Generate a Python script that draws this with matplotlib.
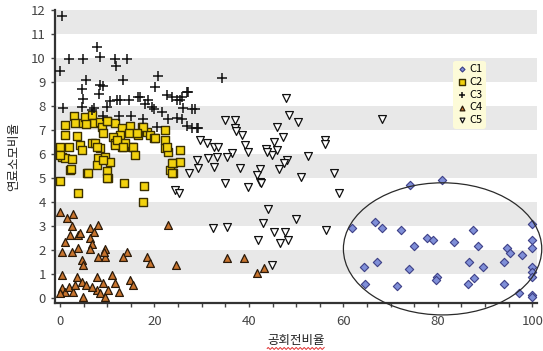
import numpy as np
import matplotlib.pyplot as plt
from matplotlib.patches import Ellipse
from matplotlib.lines import Line2D
from matplotlib.ticker import MultipleLocator

plt.rcParams['font.family'] = ['Noto Sans CJK KR', 'DejaVu Sans']

# C1 (diamonds, circled cluster)
c1_x = [74.2, 80.9, 61.8, 66.6, 68.2, 72.2, 77.7, 79.0, 74.9, 83.5, 87.4, 88.4, 94.6, 95.3,
        97.9, 99.9, 99.9, 100.0, 64.3, 67.1, 73.8, 79.8, 79.7, 86.7, 89.5, 94.1, 99.9, 100.0,
        99.9, 64.6, 71.3, 86.4, 87.7, 94.1, 97.2, 99.9, 100.0]
c1_y = [4.70, 4.90, 2.93, 3.18, 2.93, 2.82, 2.51, 2.42, 2.18, 2.32, 2.83, 2.18, 2.10, 1.86,
        1.78, 3.07, 2.42, 2.10, 1.31, 1.51, 1.20, 0.89, 0.75, 1.51, 1.31, 1.51, 1.31, 1.10,
        0.89, 0.57, 0.51, 0.57, 0.82, 0.57, 0.20, 0.12, 0.05]

# C2 (yellow squares)
c2_x = [3.0, 1.1, 1.1, 3.2, 4.9, 5.3, 6.7, 7.1, 8.5, 8.8, 9.2, 9.9, 11.7, 13.1, 14.8, 14.5,
        12.7, 11.3, 11.7, 13.1, 15.2, 17.3, 18.4, 19.1, 19.8, 16.6, 22.2, 22.2, 22.2, 22.9,
        25.4, 24.0, 25.3, 23.3, 24.0, 0.0, 0.4, 1.1, 2.5, 2.1, 4.2, 4.6, 6.7, 7.4, 8.5, 8.1,
        9.5, 10.6, 7.8, 9.9, 10.2, 5.8, 11.7, 13.8, 0.0, 3.7, 6.0, 10.0, 13.6, 17.8, 17.6,
        23.8, 5.6, 10.0, 17.6, 20.1, 16.2, 3.5, 0.0, 1.8, 2.3, 7.8, 9.2, 12.0, 13.4, 15.5, 15.9,
        22.6, 23.7]
c2_y = [7.60, 7.21, 6.79, 7.28, 7.28, 7.55, 7.63, 7.28, 7.35, 7.14, 6.86, 7.39, 7.28, 7.07,
        7.18, 6.86, 6.79, 6.70, 6.45, 6.31, 6.31, 7.14, 6.93, 6.79, 6.65, 6.79, 7.00, 6.58,
        6.24, 6.10, 6.17, 5.61, 5.65, 5.33, 5.22, 6.30, 5.89, 5.82, 5.78, 5.33, 6.38, 6.17,
        6.45, 6.45, 6.24, 5.82, 5.89, 5.68, 5.54, 5.28, 4.99, 5.19, 6.38, 6.45, 4.89, 4.36,
        5.19, 4.99, 4.78, 4.67, 3.99, 5.19, 7.25, 7.39, 7.14, 6.65, 6.86, 6.73, 5.96, 6.31,
        5.36, 6.31, 5.75, 6.58, 6.31, 6.31, 5.96, 6.31, 5.61]

# C3 (crosses)
c3_x = [0.4, 0.0, 1.8, 4.9, 7.8, 8.5, 11.7, 11.9, 14.1, 5.5, 4.6, 4.9, 8.5, 9.0, 8.3, 13.4,
        20.8, 20.1, 12.7, 14.6, 17.0, 18.7, 22.6, 23.7, 25.4, 26.8, 0.7, 7.1, 4.6, 6.7, 9.9,
        9.2, 12.4, 15.0, 16.6, 19.4, 19.9, 21.5, 20.5, 24.7, 25.8, 27.2, 26.1, 27.9, 28.6,
        22.9, 24.7, 25.8, 26.8, 27.9, 29.0, 29.3, 17.6, 34.3, 12.0, 10.5, 18.0]
c3_y = [11.76, 9.47, 9.96, 9.96, 10.47, 10.03, 9.96, 9.67, 9.96, 9.08, 8.71, 8.29, 8.87, 8.83,
        8.49, 9.08, 9.26, 8.78, 8.25, 8.25, 8.39, 8.25, 8.46, 8.39, 8.25, 8.60, 7.90, 7.90, 7.94,
        7.83, 7.94, 7.58, 7.58, 7.60, 8.39, 7.97, 7.86, 7.76, 7.14, 8.25, 8.39, 8.60, 7.90,
        7.86, 7.86, 7.45, 7.51, 7.45, 7.17, 7.07, 7.10, 7.07, 7.45, 9.15, 8.25, 8.20, 8.10]

# C4 (orange triangles)
c4_x = [0.0, 1.4, 2.8, 2.5, 2.1, 3.9, 4.2, 6.4, 8.1, 7.1, 6.4, 6.7, 1.1, 0.4, 2.5, 3.9, 6.4,
        9.5, 9.5, 8.1, 4.6, 4.9, 14.1, 13.3, 18.4, 19.1, 22.8, 24.6, 0.4, 3.5, 7.8, 11.0, 11.7,
        14.8, 15.5, 0.4, 1.1, 0.0, 1.8, 2.8, 3.2, 4.6, 5.6, 4.9, 7.8, 8.5, 9.2, 9.5, 10.2, 12.4,
        6.7, 35.4, 39.0, 43.1, 41.8, 9.3]
c4_y = [3.58, 3.35, 3.49, 3.01, 2.63, 2.63, 2.69, 2.93, 3.04, 2.74, 2.49, 2.24, 2.35, 1.93,
        1.93, 2.07, 2.04, 2.04, 1.72, 1.72, 1.58, 1.38, 1.93, 1.72, 1.72, 1.45, 3.03, 1.38, 0.96,
        0.89, 0.89, 0.96, 0.61, 0.75, 0.54, 0.40, 0.26, 0.20, 0.47, 0.26, 0.54, 0.65, 0.54, 0.05,
        0.33, 0.20, 0.61, 0.05, 0.33, 0.26, 0.47, 1.65, 1.69, 1.24, 1.03, 1.93]

# C5 (white inverted triangles)
c5_x = [47.9, 48.5, 50.3, 45.9, 47.3, 45.3, 43.6, 44.8, 46.0, 52.6, 48.0, 47.5, 46.3, 42.4,
        41.8, 42.4, 38.1, 35.0, 37.1, 37.1, 37.3, 38.5, 29.7, 31.1, 32.5, 33.5, 39.2, 39.9,
        36.4, 35.3, 33.2, 31.4, 29.0, 29.3, 27.4, 32.5, 35.0, 39.9, 51.0, 56.2, 56.2, 58.1,
        68.1, 42.6, 59.0, 44.1, 50.0, 32.3, 35.4, 42.9, 45.2, 47.7, 46.5, 48.2, 42.0, 56.4,
        44.8, 24.4, 25.1, 43.8]
c5_y = [8.32, 7.64, 7.32, 7.14, 6.72, 6.51, 6.20, 5.96, 6.17, 5.90, 5.75, 5.64, 5.36, 5.36,
        5.13, 4.85, 5.40, 7.43, 7.43, 7.07, 6.97, 6.79, 6.58, 6.45, 6.31, 6.31, 6.38, 6.10,
        6.03, 5.89, 5.89, 5.82, 5.75, 5.40, 5.22, 5.47, 4.80, 4.62, 5.05, 6.60, 6.42, 5.19,
        7.44, 4.78, 4.38, 3.69, 3.28, 2.90, 2.97, 3.11, 2.74, 2.74, 2.30, 2.42, 2.40, 2.82,
        1.39, 4.50, 4.39, 6.10]

fig = plt.figure(figsize=(5.43, 3.51), dpi=100)
ax = fig.add_axes([0.101, 0.137, 0.888, 0.835])

# alternating grey bands
for lo in range(1, 12, 2):
    ax.axhspan(lo, lo + 1, color='#e8e8e8', zorder=0, lw=0)

ax.scatter(c1_x, c1_y, marker='D', s=18, facecolor='#7f8fd8', edgecolor='#3c3f86',
           linewidths=0.8, label='C1', zorder=3)
ax.scatter(c2_x, c2_y, marker='s', s=38, facecolor='#f2d20e', edgecolor='#3b3000',
           linewidths=1.0, label='C2', zorder=3)
ax.scatter(c3_x, c3_y, marker='+', s=42, color='#111111', linewidths=1.1, label='C3', zorder=3)
ax.scatter(c4_x, c4_y, marker='^', s=32, facecolor='#c8742e', edgecolor='#2a1a0a',
           linewidths=0.9, label='C4', zorder=3)
ax.scatter(c5_x, c5_y, marker='v', s=32, facecolor='white', edgecolor='#111111',
           linewidths=0.9, label='C5', zorder=3)

ax.add_patch(Ellipse((81, 2.05), 42, 5.5, fill=False, edgecolor='#2a2a2a', lw=0.9,
                     clip_on=False, zorder=4))

ax.set_xlim(-1.1, 101)
ax.set_ylim(-0.2, 12)
ax.set_yticks(range(0, 13))
ax.set_xticks(range(0, 101, 20))
ax.xaxis.set_minor_locator(MultipleLocator(5))
for s in ['top', 'right']:
    ax.spines[s].set_visible(False)
for s in ['left', 'bottom']:
    ax.spines[s].set_linewidth(1.6)
    ax.spines[s].set_color('#333333')
ax.tick_params(axis='both', labelsize=9.5, colors='#444444', length=3, width=1)
ax.tick_params(axis='x', which='minor', length=3, width=1, colors='#444444')
ax.tick_params(axis='x', pad=6)

leg = ax.legend(loc='upper left', bbox_to_anchor=(0.815, 0.845), fontsize=8,
                frameon=True, handletextpad=0.1, borderpad=0.3, labelspacing=0.25,
                handlelength=1.0, markerscale=0.6)
leg.get_frame().set_facecolor('#fdfbd8')
leg.get_frame().set_edgecolor('none')
leg.get_frame().set_alpha(1)

xl = ax.set_xlabel('공회전비율', fontsize=9, labelpad=4, color='#222222')
ax.set_ylabel('연료소모비율', fontsize=9, labelpad=8, color='#222222')

# red wavy spell-check underline under the x label
fig.canvas.draw()
bb = xl.get_window_extent()
wx = np.arange(bb.x0, bb.x1, 1.0)
wy = bb.y0 - 1.5 + 1.0 * np.sin((wx - bb.x0) * np.pi / 2)
fig.add_artist(Line2D(wx / fig.bbox.width, wy / fig.bbox.height, color='#e03030', lw=0.7))

plt.savefig('out.png', dpi=100)
